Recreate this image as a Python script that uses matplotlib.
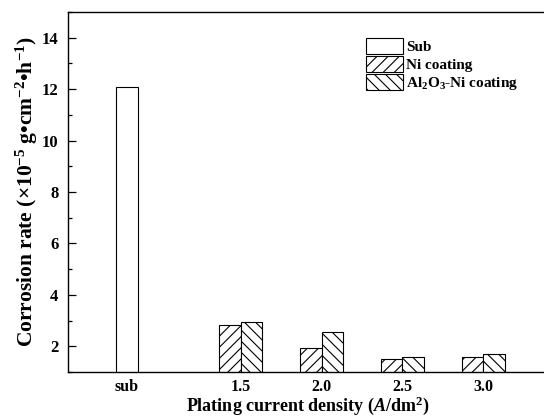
import matplotlib
matplotlib.use("Agg")
from matplotlib import pyplot as plt
import matplotlib.ticker as ticker

# data
densities = ["1.5", "2.0", "2.5", "3.0"]
sub_value = 12.08
ni_values = [2.84, 1.94, 1.52, 1.57]
al_values = [2.95, 2.55, 1.57, 1.70]

plt.rcParams['font.family'] = ['Liberation Serif', 'DejaVu Serif']
plt.rcParams['font.weight'] = 'bold'
plt.rcParams['mathtext.fontset'] = 'custom'
plt.rcParams['mathtext.rm'] = 'Liberation Serif:bold'
plt.rcParams['mathtext.bf'] = 'Liberation Serif:bold'
plt.rcParams['mathtext.it'] = 'Liberation Serif:italic:bold'
plt.rcParams['hatch.linewidth'] = 0.8

fig = plt.figure(figsize=(5.44, 4.18), dpi=100)
ax = fig.add_axes([68 / 544, 1 - 372 / 418, (548 - 68) / 544, (372 - 12) / 418])

w = 0.134
sub_x = 0.796
pos = [1.5, 2.0, 2.5, 3.0]

ax.bar([sub_x], [sub_value], width=w, bottom=0, color="white",
       edgecolor="black", linewidth=0.8, label="Sub")
ax.bar([p - w / 2 for p in pos], ni_values, width=w, color="white",
       edgecolor="black", linewidth=0.8, hatch="///", label="Ni coating")
ax.bar([p + w / 2 for p in pos], al_values, width=w, color="white",
       edgecolor="black", linewidth=0.8, hatch="\\\\\\",
       label="Al$_2$O$_3$-Ni coating")

ax.set_xlim(0.432, 3.40)
ax.set_ylim(1, 15)
ax.set_xticks([sub_x] + pos)
ax.set_xticklabels(["sub"] + densities)
ax.tick_params(axis='x', length=0, labelsize=11.5, pad=5)

ax.yaxis.set_major_locator(ticker.MultipleLocator(2))
ax.yaxis.set_minor_locator(ticker.MultipleLocator(1))
ax.yaxis.set_major_formatter(ticker.FuncFormatter(lambda v, p: "%d" % v))
ax.tick_params(axis='y', which='major', direction='in', length=6, width=0.9,
               labelsize=12, pad=7)
ax.tick_params(axis='y', which='minor', direction='in', length=3, width=0.9)
ax.set_yticks([2, 4, 6, 8, 10, 12, 14])

for s in ["left", "top", "bottom"]:
    ax.spines[s].set_linewidth(1.0)
ax.spines["right"].set_visible(False)

ax.set_ylabel("Corrosion rate ($\\times$10$^{-5}$ g\u2022cm$^{-2}$\u2022h$^{-1}$)",
              fontsize=15.5, fontweight='bold', labelpad=1)
ax.set_xlabel("Plating current density ($A$/dm$^2$)", fontsize=13,
              fontweight='bold', labelpad=-0.5)

ax.legend(loc="upper left", bbox_to_anchor=(0.605, 0.95), frameon=False,
          fontsize=11, handlelength=2.4, handleheight=1.25, handletextpad=0.2,
          labelspacing=0.12, borderpad=0)

plt.savefig("out.png", dpi=100)
